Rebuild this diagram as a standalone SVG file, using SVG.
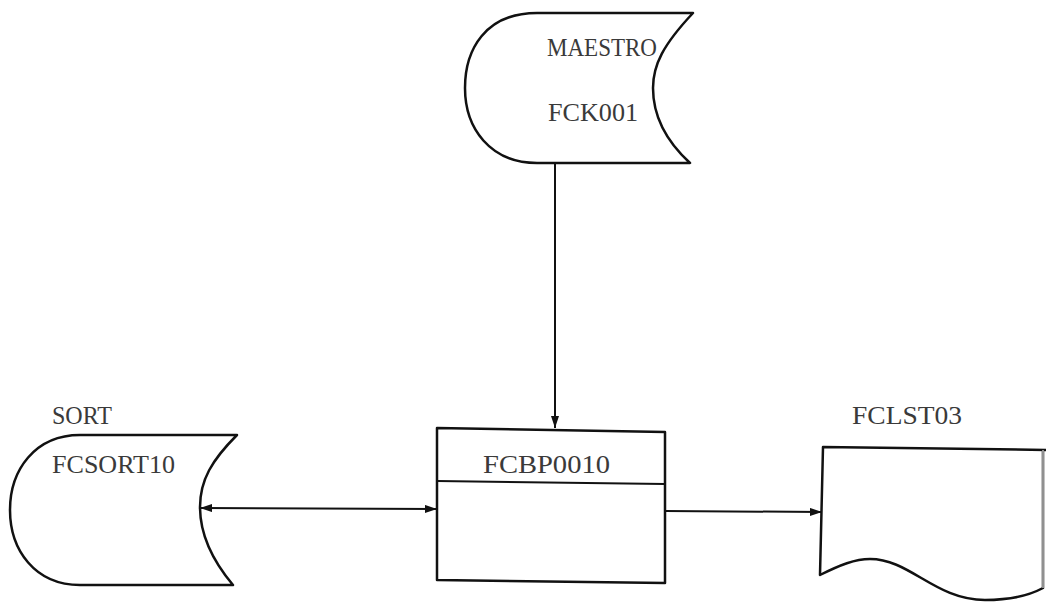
<svg xmlns="http://www.w3.org/2000/svg" width="1046" height="602" viewBox="0 0 1046 602">
<style>
.sh{fill:#fff;stroke:#111;stroke-width:2.5;stroke-linejoin:round}
.ln{fill:none;stroke:#111;stroke-width:2}
.tx{font-family:"Liberation Serif",serif;font-size:26px;fill:#3a3a3a}
</style>
<defs>
<marker id="ah" viewBox="0 0 12 8" refX="12" refY="4" markerWidth="12" markerHeight="8" markerUnits="userSpaceOnUse" orient="auto-start-reverse">
<path d="M0,0 L12,4 L0,8 Z" fill="#111"/>
</marker>
</defs>
<rect width="1046" height="602" fill="#fff"/>
<g id="connectors">
<line class="ln" x1="555" y1="164" x2="555" y2="428" marker-end="url(#ah)"/>
<line class="ln" x1="200" y1="508" x2="437" y2="509" marker-start="url(#ah)" marker-end="url(#ah)"/>
<line class="ln" x1="665" y1="511" x2="822" y2="512" marker-end="url(#ah)"/>
</g>
<g id="maestro">
<path class="sh" d="M537,13 L693,13 C663,45 653,65 653,88 C653,115 665,140 690,163 L537,163 C490,163 465,128 465,88 C465,50 485,13 537,13 Z"/>
<text class="tx" x="547" y="56" textLength="110" lengthAdjust="spacingAndGlyphs">MAESTRO</text>
<text class="tx" x="548" y="121" textLength="90" lengthAdjust="spacingAndGlyphs">FCK001</text>
</g>
<g id="sort">
<path class="sh" d="M80,435 L237,435 C212,460 200,480 200,507 C200,535 212,560 233,585 L80,585 C35,585 10,550 10,510 C10,470 35,435 80,435 Z"/>
<text class="tx" x="52" y="424" textLength="60" lengthAdjust="spacingAndGlyphs">SORT</text>
<text class="tx" x="52" y="473" textLength="123" lengthAdjust="spacingAndGlyphs">FCSORT10</text>
</g>
<g id="fcbp0010">
<path class="sh" d="M437,428 L665,432 L665,583 L437,580 Z"/>
<line class="ln" x1="437" y1="481" x2="665" y2="484" stroke-width="2.5"/>
<text class="tx" x="483" y="473" textLength="127" lengthAdjust="spacingAndGlyphs">FCBP0010</text>
</g>
<g id="fclst03">
<path class="sh" d="M823,447 L1046,450 L1043,450 L1043,588 C1030,595 1010,600 985,600 C935,600 910,559 870,559 C855,559 840,565 820,575 Z"/>
<line x1="1043" y1="450" x2="1043" y2="588" stroke="#bbb" stroke-width="1.5"/>
<text class="tx" x="852" y="424" textLength="110" lengthAdjust="spacingAndGlyphs">FCLST03</text>
</g>
</svg>
